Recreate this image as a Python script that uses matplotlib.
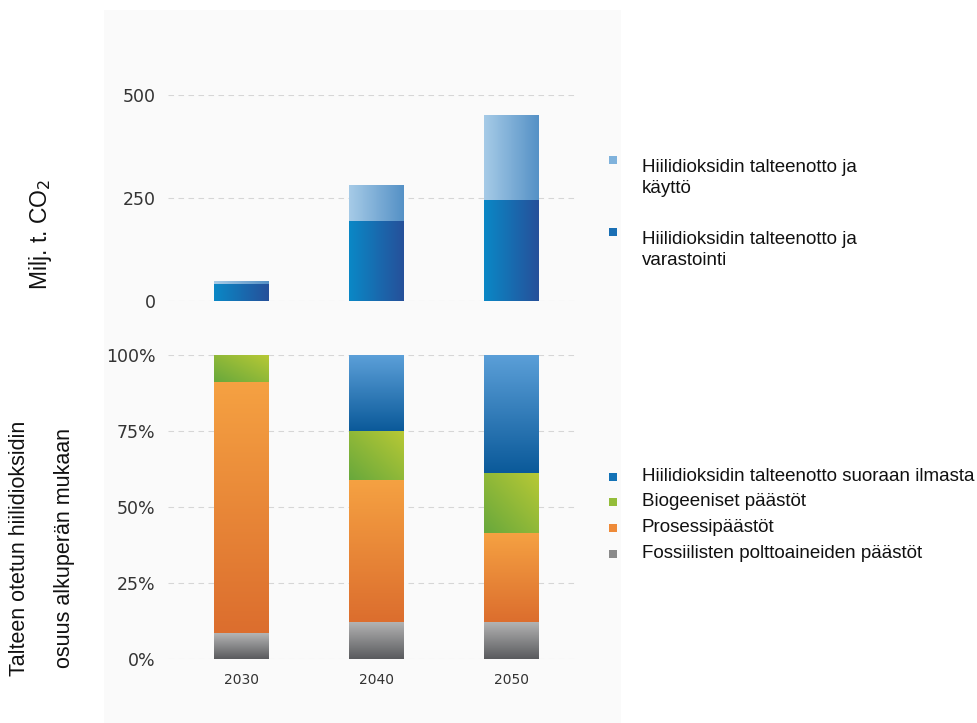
import numpy as np
import matplotlib
matplotlib.use("Agg")
import matplotlib.pyplot as plt
from matplotlib.colors import LinearSegmentedColormap
from matplotlib.patches import Rectangle

# ---------------- data ----------------
years = ["2030", "2040", "2050"]
# top panel (Milj. t. CO2)
storage = [42, 194, 245]          # talteenotto ja varastointi
utilization = [7, 88, 206]        # talteenotto ja käyttö (stacked on top)
top_ticks = [0, 250, 500]
# bottom panel (share, %)
fossil = [8.5, 12.3, 12.3]
process = [82.5, 46.5, 29.0]
biogenic = [9.0, 16.2, 19.8]
dac = [0.0, 25.0, 38.9]
bottom_ticks = [0, 25, 50, 75, 100]

legend_top = ["Hiilidioksidin talteenotto ja\nkäyttö",
              "Hiilidioksidin talteenotto ja\nvarastointi"]
legend_bottom = ["Hiilidioksidin talteenotto suoraan ilmasta",
                 "Biogeeniset päästöt",
                 "Prosessipäästöt",
                 "Fossiilisten polttoaineiden päästöt"]

# gradient styles: (color_a, color_b, direction)
G_STORAGE = ("#0a88c6", "#26509a", "h")
G_UTIL = ("#a6cbe7", "#5591c6", "h")
G_DAC = ("#0b5a9a", "#5b9fd8", "v")     # bottom -> top
G_BIO = ("#68a83c", "#b8c935", "d")
G_PROC = ("#dc6e2e", "#f5a142", "v")
G_FOSS = ("#5a5b5e", "#b5b5b5", "v")

FIG_W, FIG_H = 978, 723
fig = plt.figure(figsize=(FIG_W / 100, FIG_H / 100), dpi=100)
fig.patch.set_facecolor("white")
fig.patches.append(Rectangle((104 / FIG_W, 0), (621 - 104) / FIG_W, 1 - 10 / FIG_H,
                             transform=fig.transFigure, facecolor="#fafafa",
                             edgecolor="none", zorder=-10))

def ax_rect(x0, y0, x1, y1):
    return [x0 / FIG_W, 1 - y1 / FIG_H, (x1 - x0) / FIG_W, (y1 - y0) / FIG_H]

ax_top = fig.add_axes(ax_rect(168, 95, 578, 301))
ax_bot = fig.add_axes(ax_rect(168, 355, 578, 659))

x = np.arange(len(years))
W = 0.405

def grad_fill(ax, bars, style):
    ca, cb, d = style
    cmap = LinearSegmentedColormap.from_list("g", [ca, cb])
    n = 64
    if d == "h":
        arr = np.tile(np.linspace(0, 1, n), (n, 1))
    elif d == "v":
        arr = np.tile(np.linspace(0, 1, n)[:, None], (1, n))
    else:
        xx, yy = np.meshgrid(np.linspace(0, 1, n), np.linspace(0, 1, n))
        arr = (xx + yy) / 2
    for b in bars:
        h = b.get_height()
        if h <= 0:
            continue
        x0, y0 = b.get_x(), b.get_y()
        im = ax.imshow(arr, cmap=cmap, origin="lower", aspect="auto",
                       extent=(x0, x0 + b.get_width(), y0, y0 + h),
                       interpolation="bilinear", zorder=3)
        im.set_clip_path(b)
        b.set_facecolor("none")

def style_axis(ax):
    ax.set_facecolor("none")
    for s in ax.spines.values():
        s.set_visible(False)
    ax.tick_params(axis="both", length=0, labelsize=12.5, colors="#333333", pad=9)
    ax.yaxis.grid(True, linestyle=(0, (5, 4)), color="#d6d6d6", linewidth=0.8)
    ax.set_axisbelow(True)

# ---- top panel ----
b_st = ax_top.bar(x, storage, W, zorder=2, linewidth=0)
b_ut = ax_top.bar(x, utilization, W, bottom=storage, zorder=2, linewidth=0)
style_axis(ax_top)
ax_top.set_yticks(top_ticks)
ax_top.set_xticks([])
grad_fill(ax_top, b_st, G_STORAGE)
grad_fill(ax_top, b_ut, G_UTIL)
ax_top.set_ylim(0, 500)
ax_top.set_xlim(-0.54, 2.49)

# ---- bottom panel ----
f = np.array(fossil); p = np.array(process); bi = np.array(biogenic); d = np.array(dac)
b_f = ax_bot.bar(x, f, W, zorder=2, linewidth=0)
b_p = ax_bot.bar(x, p, W, bottom=f, zorder=2, linewidth=0)
b_b = ax_bot.bar(x, bi, W, bottom=f + p, zorder=2, linewidth=0)
b_d = ax_bot.bar(x, d, W, bottom=f + p + bi, zorder=2, linewidth=0)
style_axis(ax_bot)
ax_bot.set_yticks(bottom_ticks)
ax_bot.set_yticklabels([f"{t}%" for t in bottom_ticks])
ax_bot.set_xticks(x)
ax_bot.set_xticklabels(years, fontsize=10)
ax_bot.tick_params(axis="x", pad=10)
grad_fill(ax_bot, b_f, G_FOSS)
grad_fill(ax_bot, b_p, G_PROC)
grad_fill(ax_bot, b_b, G_BIO)
grad_fill(ax_bot, b_d, G_DAC)
ax_bot.set_ylim(0, 100)
ax_bot.set_xlim(-0.54, 2.49)

# ---- axis titles ----
LF = "Liberation Sans"
fig.text(40 / FIG_W, 1 - 234 / FIG_H, "Milj. t. CO$_2$", rotation=90, ha="center",
         va="center", fontsize=16.5, family=LF, color="#111111")
fig.text(20 / FIG_W, 1 - 548 / FIG_H, "Talteen otetun hiilidioksidin", rotation=90,
         ha="center", va="center", fontsize=15.5, family=LF, color="#111111")
fig.text(65 / FIG_W, 1 - 548 / FIG_H, "osuus alkuperän mukaan", rotation=90,
         ha="center", va="center", fontsize=15.5, family=LF, color="#111111")

# ---- legends (manual) ----
def legend_item(ypix, text_top, text, color):
    fig.patches.append(Rectangle((609 / FIG_W, 1 - (ypix + 4) / FIG_H), 8 / FIG_W, 8 / FIG_H,
                                 transform=fig.transFigure, facecolor=color,
                                 edgecolor="none"))
    fig.text(642 / FIG_W, 1 - text_top / FIG_H, text, ha="left", va="top",
             fontsize=13.5, family=LF, color="#111111", linespacing=1.3)

legend_item(160, 159, legend_top[0], "#7fb2dc")
legend_item(232, 231, legend_top[1], "#1a6fb4")
legend_item(477, 468, legend_bottom[0], "#1372b6")
legend_item(502, 493, legend_bottom[1], "#94bd3a")
legend_item(528, 519, legend_bottom[2], "#ee8a38")
legend_item(554, 545, legend_bottom[3], "#8a8a8a")

fig.savefig("out.png", dpi=100)
